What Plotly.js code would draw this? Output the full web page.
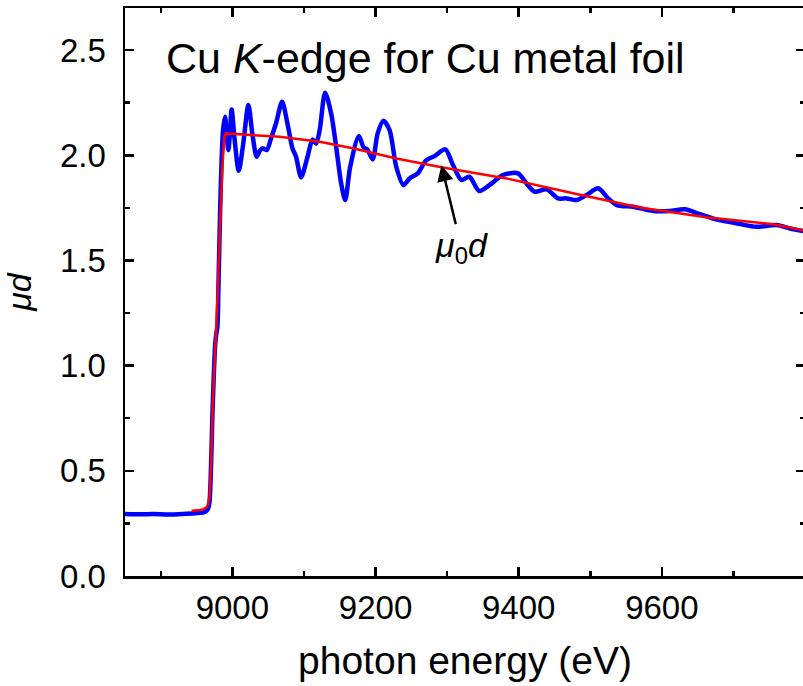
<!DOCTYPE html>
<html>
<head>
<meta charset="utf-8">
<script src="https://cdn.plot.ly/plotly-3.0.1.min.js"></script>
<style>
html,body{margin:0;padding:0;overflow:hidden;background:#fff;}
#chart{width:808px;height:686px;}
</style>
</head>
<body>
<div id="chart"></div>
<script>
// Measured absorption (blue)
const energyMeasured = [8850,8870,8890,8910,8930,8945,8955,8962,8966,8968,8970,8972,8974,8976,8977.5,8979,8981,8983,8985,8987,8989.8,8992,8994.4,8996.5,8999,9003,9008.9,9015,9022.4,9028,9034,9038,9042.4,9048,9054,9061,9069.5,9077,9084,9089,9096,9105,9112,9117,9122,9129.6,9138,9145,9152,9157.6,9164.6,9176.7,9183,9189,9196,9203,9211,9219.6,9229,9239,9247.6,9259,9271,9282.5,9297.5,9308,9320,9331,9345,9359,9378,9399,9411,9422,9439,9455,9467,9481,9495,9511,9525,9537,9560,9588,9611,9632,9653,9676,9709,9732,9760,9779,9800];
const muD = [0.295,0.293,0.295,0.292,0.295,0.297,0.300,0.305,0.320,0.350,0.500,0.750,0.950,1.100,1.150,1.180,1.450,1.750,1.980,2.120,2.183,2.100,2.025,2.100,2.218,2.080,1.926,2.050,2.239,2.100,1.993,2.020,2.033,2.025,2.080,2.152,2.254,2.150,2.033,1.993,1.895,1.993,2.075,2.056,2.120,2.297,2.199,2.040,1.866,1.787,1.945,2.091,2.040,2.025,1.980,2.104,2.164,2.120,1.945,1.858,1.890,1.914,1.977,1.996,2.028,1.955,1.882,1.898,1.830,1.858,1.906,1.914,1.866,1.827,1.838,1.795,1.795,1.787,1.811,1.843,1.795,1.763,1.755,1.735,1.735,1.743,1.720,1.695,1.673,1.660,1.668,1.652,1.638];
// Background atomic absorption mu0 d (red)
const energyBackground = [8943,8952,8960,8965,8968,8970,8973,8975,8977,8980,8983,8986,8989,8991,9066,9122,9168,9229,9294,9383,9476,9569,9662,9756,9800];
const mu0D = [0.310,0.312,0.318,0.330,0.370,0.500,0.850,1.050,1.150,1.400,1.700,1.950,2.090,2.104,2.088,2.064,2.033,1.985,1.942,1.890,1.819,1.752,1.705,1.672,1.642];
const xTickVals = [9000,9200,9400,9600];
const xTickText = ['9000','9200','9400','9600'];
const yTickVals = [0,0.5,1,1.5,2,2.5];
const yTickText = ['0.0','0.5','1.0','1.5','2.0','2.5'];

const FONT = 'Liberation Sans, Arial, sans-serif';

const traces = [
  {x: energyMeasured, y: muD, type:'scatter', mode:'lines', name:'μd',
   line:{color:'#0000ff', width:4.5, shape:'spline', smoothing:0.8}},
  {x: energyBackground, y: mu0D, type:'scatter', mode:'lines', name:'μ0d',
   line:{color:'#ff0000', width:2.5}}
];

const axisCommon = {
  showline:true, linecolor:'#000', linewidth:2.5, mirror:'ticks',
  ticks:'inside', ticklen:9, tickwidth:2.5, tickcolor:'#000',
  showgrid:false, zeroline:false,
  tickfont:{family:FONT, size:33, color:'#000'}
};

const layout = {
  width:808, height:686,
  margin:{l:125, r:3, t:8, b:110},
  paper_bgcolor:'#fff', plot_bgcolor:'#fff',
  showlegend:false,
  xaxis: Object.assign({}, axisCommon, {
    range:[8850,9800], tickvals:xTickVals, ticktext:xTickText,
    minor:{ticks:'inside', ticklen:5, tickwidth:2.5, tickcolor:'#000', dtick:100, tick0:8900},
    ticklabelstandoff:1,
    title:{text:'photon energy (eV)', font:{family:FONT, size:39, color:'#000'}, standoff:22}
  }),
  yaxis: Object.assign({}, axisCommon, {
    range:[0,2.7], tickvals:yTickVals, ticktext:yTickText,
    minor:{ticks:'inside', ticklen:5, tickwidth:2.5, tickcolor:'#000', dtick:0.25, tick0:0},
    ticklabelstandoff:10,
    title:{text:'<i>μd</i>', font:{family:FONT, size:34, color:'#000'}, standoff:18}
  }),
  annotations:[
    {xref:'paper', yref:'paper', x:0.058, y:0.912, xanchor:'left', yanchor:'middle',
     text:'Cu <i>K</i>-edge for Cu metal foil', showarrow:false,
     font:{family:FONT, size:43, color:'#000'}},
    {xref:'x', yref:'y', x:9292, y:1.953, ax:20, ay:82,
     text:'<i>μ</i><sub>0</sub><i>d</i>', showarrow:true,
     arrowhead:2, arrowsize:1.3, arrowwidth:2.5, arrowcolor:'#000', standoff:0,
     font:{family:FONT, size:34, color:'#000'}}
  ]
};

Plotly.newPlot('chart', traces, layout, {displayModeBar:false, staticPlot:true});
</script>
</body>
</html>
